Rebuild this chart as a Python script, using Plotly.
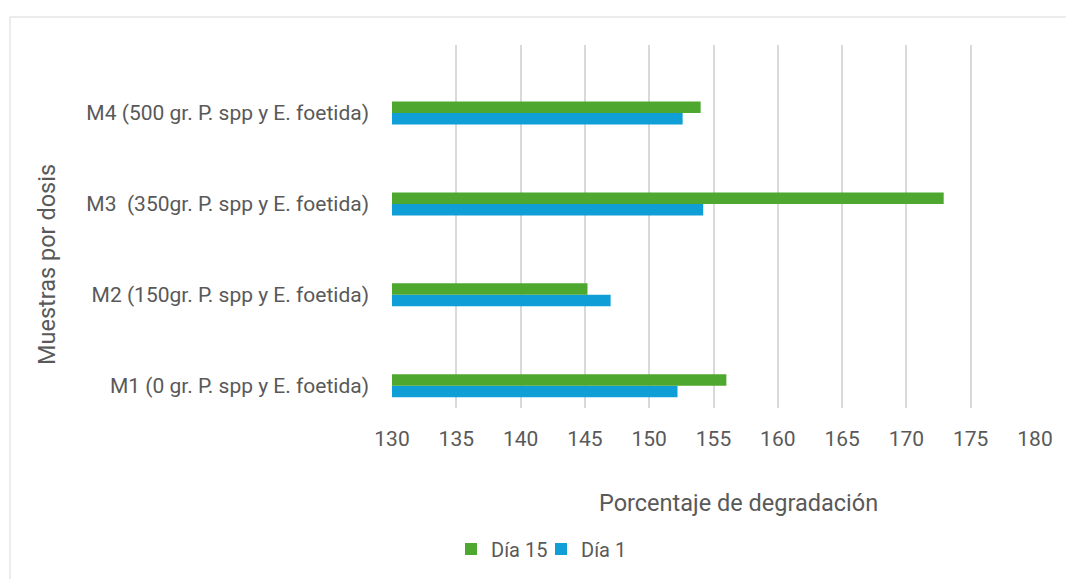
import plotly.graph_objects as go

categories = [
    "M1 (0 gr. P. spp y E. foetida)",
    "M2 (150gr. P. spp y E. foetida)",
    "M3\u00a0\u00a0(350gr. P. spp y E. foetida)",
    "M4 (500 gr. P. spp y E. foetida)",
]
dia1 = [152.2, 147.0, 154.2, 152.6]
dia15 = [156.0, 145.2, 172.9, 154.0]
x_ticks = [130, 135, 140, 145, 150, 155, 160, 165, 170, 175, 180]

W, H = 1066, 579
L, R, T, B = 392, 31, 45, 171
pw = W - L - R
ph = H - T - B

def px(x):
    return (x - L) / pw

def py(y):
    return (H - B - y) / ph

font = "Roboto"
gray = "#595959"

fig = go.Figure()
fig.add_trace(go.Bar(y=categories, x=dia1, orientation="h", name="Día 1",
                     marker=dict(color="#0F9ED5", line=dict(width=0))))
fig.add_trace(go.Bar(y=categories, x=dia15, orientation="h", name="Día 15",
                     marker=dict(color="#4EA72E", line=dict(width=0))))

fig.update_layout(
    width=W, height=H,
    margin=dict(l=L, r=R, t=T, b=B, autoexpand=False),
    paper_bgcolor="white", plot_bgcolor="white",
    barmode="group", bargap=0.747, bargroupgap=0,
    font=dict(family=font, color=gray, size=21),
    showlegend=True,
    legend=dict(orientation="h", traceorder="reversed", x=px(451), xanchor="left",
                y=py(549), yanchor="middle", font=dict(size=20, color=gray),
                itemwidth=30, itemsizing="constant", bgcolor="rgba(0,0,0,0)",
                entrywidth=45, entrywidthmode="pixels"),
    xaxis=dict(range=[130, 180], tickvals=x_ticks, showgrid=True, gridcolor="#D9D9D9",
               gridwidth=1.5, zeroline=False, showline=False, ticks="",
               tickfont=dict(size=21, color=gray), ticklabelstandoff=16),
    yaxis=dict(range=[-0.245, 3.748], showgrid=False, zeroline=False, showline=False,
               ticks="", tickfont=dict(size=21, color=gray), ticklabelstandoff=22),
    annotations=[
        dict(text="Porcentaje de degradación", xref="paper", yref="paper",
             x=px(738), y=py(503), xanchor="center", yanchor="middle", showarrow=False,
             font=dict(size=23.5, color=gray)),
        dict(text="Muestras por dosis", xref="paper", yref="paper",
             x=px(47), y=py(265), xanchor="center", yanchor="middle", showarrow=False,
             textangle=-90, font=dict(size=23.5, color=gray)),
    ],
    shapes=[
        dict(type="rect", xref="paper", yref="paper", x0=px(10), y0=py(17),
             x1=px(1300), y1=py(800), line=dict(color="#D9D9D9", width=1),
             fillcolor="rgba(0,0,0,0)", layer="below"),
    ],
)

fig.write_html("out.html")
